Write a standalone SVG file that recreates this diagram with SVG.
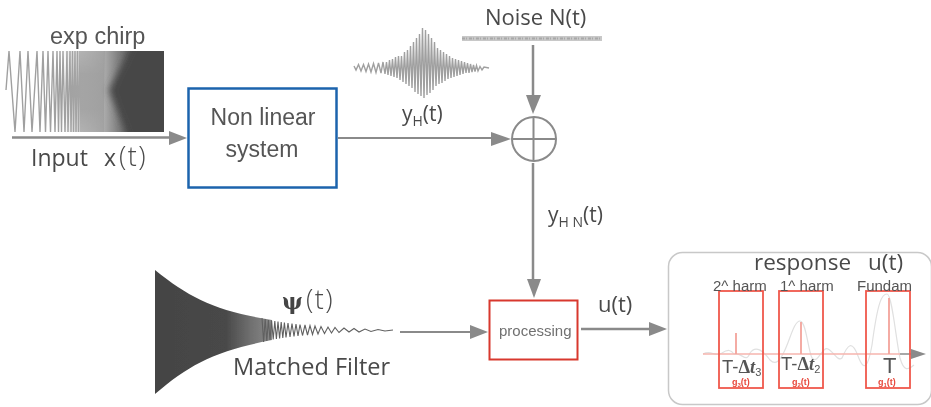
<svg xmlns="http://www.w3.org/2000/svg" width="931" height="407" viewBox="0 0 931 407">
<style>
text{font-family:"Liberation Sans",Arial,sans-serif;fill:#555}
.o{font-family:"Open Sans","Noto Sans",sans-serif;fill:#4a4a4a}
.c{fill:none;stroke:#8a8a8a;stroke-width:2.5}
.t{fill:none;stroke:#8a8a8a;stroke-width:2}
.h{fill:#8a8a8a}
.r{fill:none;stroke:#f0584c;stroke-width:1.8}
.w{fill:none;stroke:#a0a0a0;stroke-width:1.4}
.s{font-size:9px;font-weight:bold;fill:#e8483c}
.sf{font-family:"Liberation Serif",serif;font-weight:bold}
</style>
<defs>
<linearGradient id="cg" gradientUnits="userSpaceOnUse" x1="62" x2="164" y1="0" y2="0"><stop offset="0" stop-color="#aaa" stop-opacity="0"/><stop offset=".2" stop-color="#a8a8a8" stop-opacity=".55"/><stop offset=".4" stop-color="#a0a0a0" stop-opacity=".85"/><stop offset=".55" stop-color="#808080"/><stop offset=".72" stop-color="#505050"/><stop offset="1" stop-color="#474747"/></linearGradient>
<linearGradient id="mg" gradientUnits="userSpaceOnUse" x1="155" x2="272" y1="0" y2="0"><stop offset="0" stop-color="#444"/><stop offset=".6" stop-color="#484848"/><stop offset=".82" stop-color="#707070"/><stop offset="1" stop-color="#8a8a8a"/></linearGradient>
<filter id="b" x="-5%" y="-5%" width="110%" height="110%"><feGaussianBlur stdDeviation="0.5"/></filter>
<filter id="b2" x="-30%" y="-30%" width="160%" height="160%"><feGaussianBlur stdDeviation="3.5"/></filter>
<clipPath id="cc"><rect x="62" y="51" width="102" height="81"/></clipPath>
</defs>
<rect width="931" height="407" fill="#fff"/>
<g filter="url(#b)">
<g id="chirp">
<path class="w" d="M6 90L9 51L15 132L20 51L24 132L28 51L32 132L37 51L40 132L43 51L45.500 132L48 51L50.500 132L53 51L55 132L57 51L58.500 132L60 51L61.500 132L63 51L65 132L67 51L68 132L70 51L71 132L72.500 51L73.500 132L75 51L76 132L77.500 51L78.500 132L80 51L81 132L82 51L83 132L84 51L85 132L86 51L87 132L88 51L89 132L90 51L91 132L92 51L93 132L94 51L95 132L96 51L97 132L98 51L99 132L100 51L101 132L102 51L103 132L104 51"/>
<rect x="62" y="51" width="102" height="81" fill="url(#cg)"/>
<g clip-path="url(#cc)"><polygon points="180,40 135,40 109,90 131,145 180,145" fill="#474747" filter="url(#b2)"/></g>
</g>
<text x="50" y="44" font-size="23.500">exp chirp</text>
<text class="o" x="31" y="166" font-size="23">Input</text>
<text class="o" x="104" y="166" font-size="23">x</text>
<text class="o" x="119" y="166" font-size="27" font-weight="300" letter-spacing="1.500">(t)</text>
<g id="connectors">
<path class="c" d="M12 137.500H172"/><polygon class="h" points="169,131 187,138 169,145"/>
<path class="t" d="M338 138H494"/><polygon class="h" points="491,132 511,139 491,146"/>
<path class="c" d="M533 45V98"/><polygon class="h" points="526,95 541,95 533,114"/>
<path class="c" d="M533 163V282"/><polygon class="h" points="527,279 541,279 534,298"/>
<path class="t" d="M400 332H472"/><polygon class="h" points="470,325 488,332 470,339"/>
<path class="c" d="M581 329H652"/><polygon class="h" points="649,322 667,329 649,336"/>
</g>
<g id="nonlinear">
<rect x="188.500" y="88.500" width="148" height="99" fill="#fff" stroke="#1e64ad" stroke-width="2.500"/>
<text x="263" y="125" text-anchor="middle" font-size="23">Non linear</text>
<text x="262" y="157" text-anchor="middle" font-size="23">system</text>
</g>
<g id="noise">
<text class="o" x="485" y="25" font-size="22">Noise N(t)</text>
<path d="M462 38.500H602" stroke="#c8c8c8" stroke-width="5" fill="none"/>
<path d="M462 38.500H602" stroke="#a8a8a8" stroke-width="2" stroke-dasharray="3 1 1 2" fill="none"/>
</g>
<g id="burst">
<path class="w" d="M354 66L356 70L358.500 64.500L361 71L363.500 64.500L366 71.500L368.500 64L371 72L373.500 63.500L376 72.500L378.500 63L381 73L383 62L385 74L386.500 62L388 75L389.500 60L391 76L392.500 59L394 77L395.500 57L397 78L398.500 56L400 80L401.500 56L403 82L404.500 52L406 84L407.500 50L409 86L410.500 46L412 88L413.500 42L415 92L416.500 38L418 94L419.500 34L421 96L422.500 28L424 98L425.500 30L427 95L428.500 34L430 93L431.500 38L433 90L434.500 42L436 86L437.500 48L439 84L440.500 50L442 83L443.500 52L445 81L446.500 54L448 79L449.500 56L451 78L452.500 58L454 77L455.500 59L457 76L458.500 60L460 75L461.500 61L463 74L464.500 62L466 73L467.500 63L469 73L470.500 64L472 72L473.500 65L475 71.500L476.500 65.500L478 71L480 66.500L482 70L484 67L489 68"/>
</g>
<text class="o" x="402" y="121" font-size="21">y<tspan font-size="14" dy="5">H</tspan><tspan dy="-5">(t)</tspan></text>
<g id="sum">
<circle cx="534" cy="139" r="22" fill="#fff" stroke="#8a8a8a" stroke-width="2"/>
<path d="M512 139H556M533.500 117V161" stroke="#8a8a8a" stroke-width="2" fill="none"/>
</g>
<text class="o" x="548" y="222" font-size="21">y<tspan font-size="14" dy="5">H N</tspan><tspan dy="-5">(t)</tspan></text>
<g id="matched">
<path d="M155 270C190 298 215 311 272 320L272 340C215 351 190 364 155 394Z" fill="url(#mg)"/>
<path fill="none" stroke="#606060" stroke-width="1.100" d="M262 318L263.600 342L265.200 319L266.800 341L268.400 320L270 340L271.600 320.500L273.200 339.500L274.800 321L276.400 339L278 321.500L279.600 338.500L281.200 322L282.800 338L284.400 322.500L286 337.500L288 323L290 337L292 323.500L294 336.500L296 324L298 336L300 324.500L302.500 335.500L305 325L307.500 335L310 325.500L312.500 334.500L315 326L318 334L321 326.500L324.500 333.500L328 327L331.500 333L335 327.500L339 332.500L344 328L349 332L354 328.500L359 332L365 329L371 331.500L378 329.500L385 331L393 330"/>
</g>
<text x="282" y="309" font-size="22" font-weight="bold" style="font-family:'DejaVu Serif',serif;fill:#444">ψ</text>
<text class="o" x="306" y="309" font-size="27" font-weight="300" letter-spacing="1.500">(t)</text>
<text class="o" x="233" y="375" font-size="23.500">Matched Filter</text>
<g id="processing">
<rect x="489.500" y="300.500" width="88" height="59" fill="#fff" stroke="#d8382e" stroke-width="2"/>
<text x="499" y="336" font-size="15" style="fill:#707070">processing</text>
</g>
<text class="o" x="598" y="312" font-size="22">u(t)</text>
<g id="response">
<rect x="668.500" y="252.500" width="263" height="152" rx="14" fill="#fff" stroke="#c8c8c8" stroke-width="1.500"/>
<path d="M703 354C712 349 714 358 722 353C728 349 731 350 734 354C742 352 746 364 750 353C756 344 764 352 770 360C776 366 780 360 784 352C790 340 794 321 800 321C806 321 808 350 812 358C818 365 822 346 828 349C834 352 838 362 842 358C848 344 852 340 858 356C864 372 868 368 872 345C878 300 882 294 887 294C892 294 896 340 900 358C904 372 908 370 914 365" fill="none" stroke="#e0e0e0" stroke-width="1.200"/>
<path d="M703 354H900" stroke="#f6b5ae" stroke-width="1.300" fill="none"/>
<path d="M736 354V333M801 354V322M889 354V298" stroke="#f3a39b" stroke-width="1.800" fill="none"/>
<path d="M900 354H912" stroke="#8a8a8a" stroke-width="1.500" fill="none"/>
<polygon class="h" points="911,349 926,354 911,359"/>
<rect class="r" x="719" y="291" width="44" height="97"/>
<rect class="r" x="779" y="291" width="44" height="97"/>
<rect class="r" x="866" y="291" width="44" height="97"/>
<text class="o" x="754" y="270" font-size="22.500">response</text>
<text class="o" x="868" y="270" font-size="22.500">u(t)</text>
<text x="713" y="291" font-size="15">2^ harm</text>
<text x="780" y="291" font-size="15">1^ harm</text>
<text x="857" y="291" font-size="15">Fundam</text>
<text x="722" y="373" font-size="18.500">T-<tspan class="sf">Δ</tspan><tspan class="sf" font-style="italic">t</tspan><tspan font-size="11" dy="3">3</tspan></text>
<text x="781" y="370" font-size="18.500">T-<tspan class="sf">Δ</tspan><tspan class="sf" font-style="italic">t</tspan><tspan font-size="11" dy="3">2</tspan></text>
<text x="883" y="373" font-size="22">T</text>
<text class="s" x="732" y="385">g<tspan font-size="6" dy="1.500">3</tspan><tspan dy="-1.500">(t)</tspan></text>
<text class="s" x="792" y="385">g<tspan font-size="6" dy="1.500">2</tspan><tspan dy="-1.500">(t)</tspan></text>
<text class="s" x="878" y="385">g<tspan font-size="6" dy="1.500">1</tspan><tspan dy="-1.500">(t)</tspan></text>
</g>
</g>
</svg>
